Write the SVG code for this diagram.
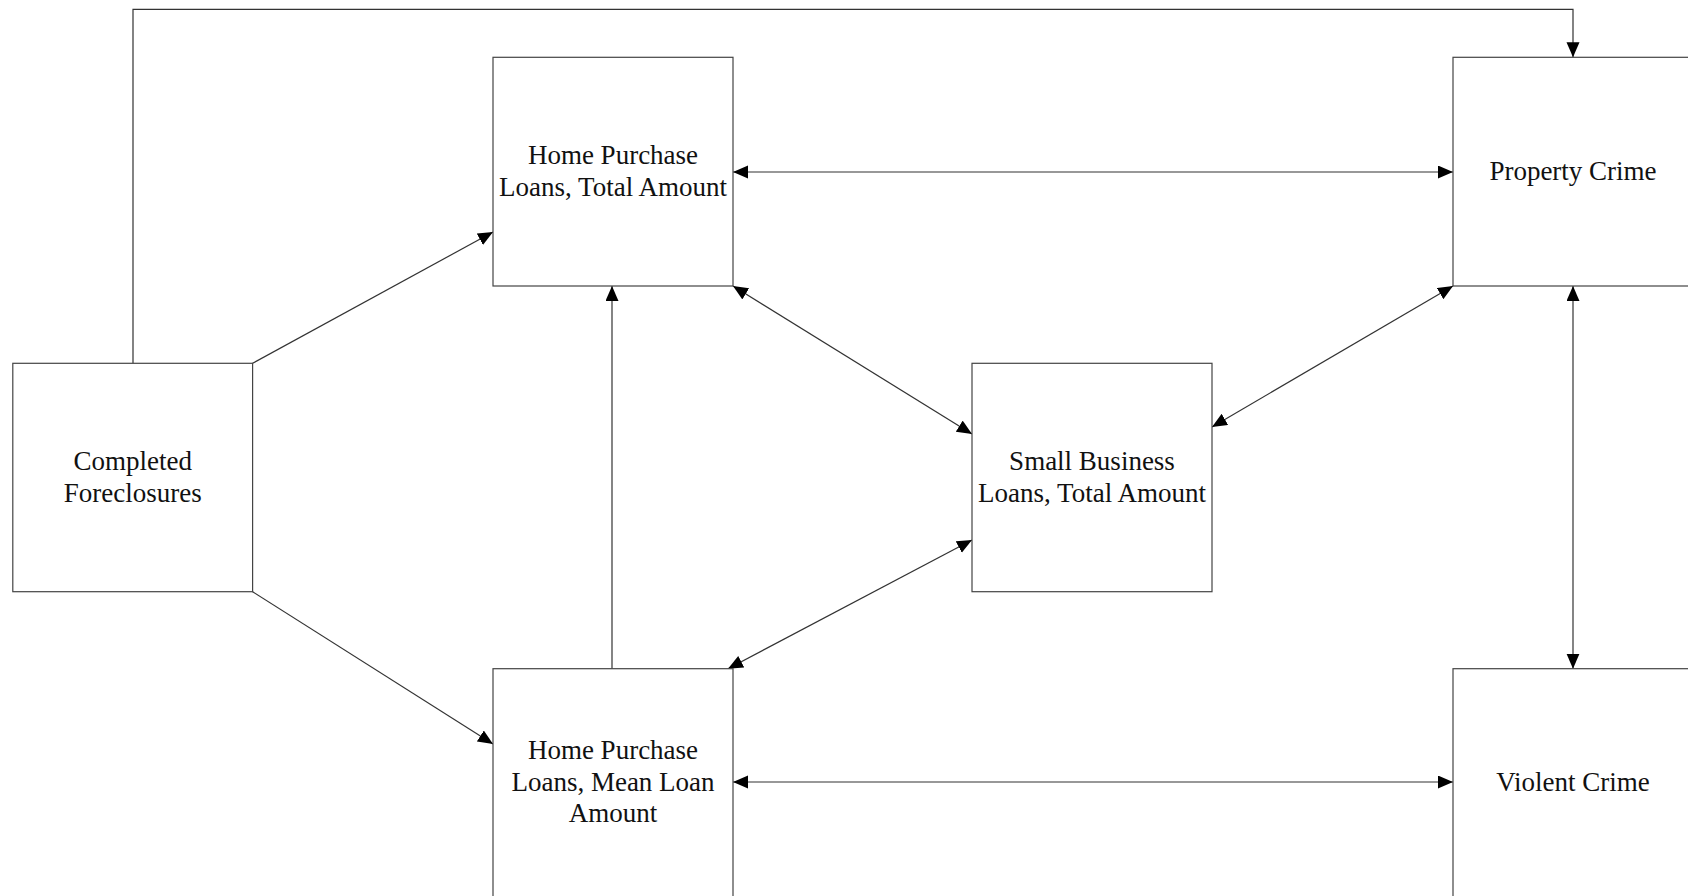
<svg xmlns="http://www.w3.org/2000/svg" width="1688" height="896" viewBox="0 0 1688 896">
<style>
.box{fill:#fff;stroke:#444;stroke-width:1.2}
.lbl{font-family:"Liberation Serif","Times New Roman",serif;font-size:27px;fill:#111;text-anchor:middle}
.c{fill:none;stroke:#333;stroke-width:1.2}
</style>
<defs>
<marker id="ah" markerUnits="userSpaceOnUse" markerWidth="16" markerHeight="14" refX="15" refY="6.5" orient="auto-start-reverse" viewBox="0 0 16 14">
<path d="M0,0 L15,6.5 L0,13 z" fill="#000"/>
</marker>
</defs>
<rect width="1688" height="896" fill="#fff"/>
<g id="connectors">
<path class="c" d="M133,363.3 V9.3 H1573 V57.3" marker-end="url(#ah)"/>
<line class="c" x1="252.6" y1="363.3" x2="493" y2="232" marker-end="url(#ah)"/>
<line class="c" x1="252.6" y1="591.7" x2="493" y2="744" marker-end="url(#ah)"/>
<line class="c" x1="612" y1="668.7" x2="612" y2="286" marker-end="url(#ah)"/>
<line class="c" x1="733" y1="172" x2="1453" y2="172" marker-start="url(#ah)" marker-end="url(#ah)"/>
<line class="c" x1="733" y1="286" x2="972" y2="434" marker-start="url(#ah)" marker-end="url(#ah)"/>
<line class="c" x1="1453" y1="286" x2="1212" y2="427" marker-start="url(#ah)" marker-end="url(#ah)"/>
<line class="c" x1="972" y1="540" x2="728" y2="668.7" marker-start="url(#ah)" marker-end="url(#ah)"/>
<line class="c" x1="733" y1="782" x2="1453" y2="782" marker-start="url(#ah)" marker-end="url(#ah)"/>
<line class="c" x1="1573" y1="286" x2="1573" y2="668.7" marker-start="url(#ah)" marker-end="url(#ah)"/>
</g>
<g id="completed-foreclosures">
<rect class="box" x="12.8" y="363.3" width="239.8" height="228.4"/>
<text class="lbl" x="132.7" y="470">Completed</text>
<text class="lbl" x="132.7" y="502">Foreclosures</text>
</g>
<g id="hp-total">
<rect class="box" x="493" y="57.3" width="240" height="228.7"/>
<text class="lbl" x="613" y="164">Home Purchase</text>
<text class="lbl" x="613" y="196">Loans, Total Amount</text>
</g>
<g id="hp-mean">
<rect class="box" x="493" y="668.7" width="240" height="228.7"/>
<text class="lbl" x="613" y="759">Home Purchase</text>
<text class="lbl" x="613" y="791">Loans, Mean Loan</text>
<text class="lbl" x="613" y="822">Amount</text>
</g>
<g id="small-business">
<rect class="box" x="972" y="363.3" width="240" height="228.4"/>
<text class="lbl" x="1092" y="470">Small Business</text>
<text class="lbl" x="1092" y="502">Loans, Total Amount</text>
</g>
<g id="property-crime">
<rect class="box" x="1453" y="57.3" width="240" height="228.7"/>
<text class="lbl" x="1573" y="180">Property Crime</text>
</g>
<g id="violent-crime">
<rect class="box" x="1453" y="668.7" width="240" height="228.7"/>
<text class="lbl" x="1573" y="791">Violent Crime</text>
</g>
</svg>
